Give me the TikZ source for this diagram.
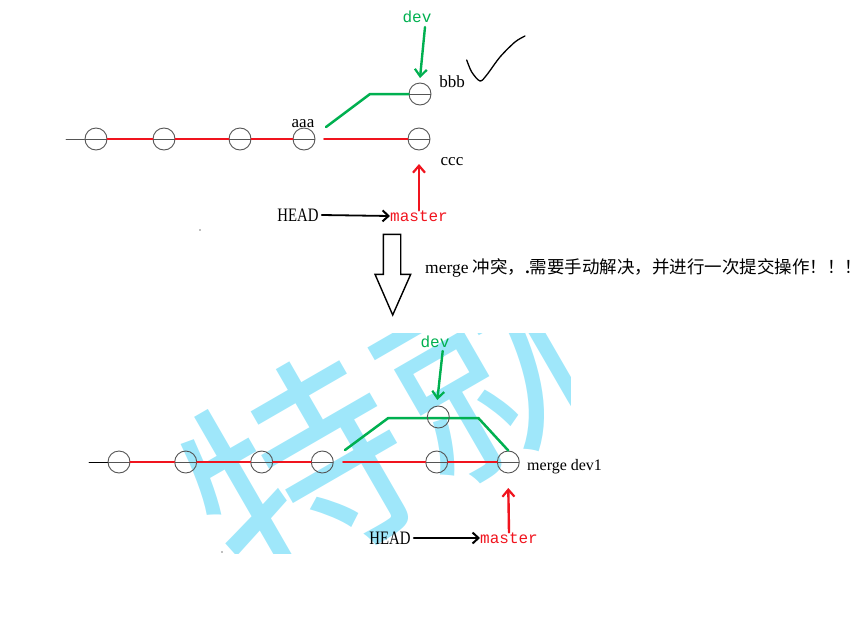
\documentclass[tikz,border=0pt]{standalone}
\usepackage{fontspec}
\setmainfont{Liberation Serif}
\newfontfamily\monofont{Liberation Mono}
\newfontfamily\cjk{Noto Sans CJK SC}
\usetikzlibrary{arrows.meta}
\definecolor{gitred}{HTML}{F0141E}
\definecolor{gitgreen}{HTML}{00B050}
\definecolor{wmcyan}{HTML}{9FE7FA}
\definecolor{ringgray}{HTML}{555555}
\tikzset{
    commit/.style={
        circle, draw=ringgray, line width=0.9pt, minimum size=22pt, inner sep=0pt,
        path picture={\draw[ringgray, line width=0.8pt] (path picture bounding box.west) -- (path picture bounding box.east);}
    },
    tag/.style={font=\fontsize{17}{20}\selectfont, inner sep=0pt},
    ref/.style={font=\monofont\fontsize{16}{18}\selectfont, inner sep=0pt},
    headlbl/.style={font=\fontsize{19}{22}\selectfont, xscale=0.78, inner sep=0pt},
    redline/.style={gitred, line width=2pt},
    greenline/.style={gitgreen, line width=2.5pt},
    ptr/.style={line width=2.4pt, -{Straight Barb[length=7pt,width=12pt,line width=2.2pt]}},
    headptr/.style={line width=1.8pt, -{Straight Barb[length=6pt,width=11pt,line width=2pt]}}
}

\begin{document}
\begin{tikzpicture}[x=1pt, y=-1pt, line cap=round, line join=round]
\useasboundingbox (0,0) rectangle (867,616);

% watermark
\begin{scope}
  \clip (120,333) rectangle (570,553);
  \node[font=\cjk\fontsize{220}{220}\selectfont, text=wmcyan, rotate=30, inner sep=0pt] (wm) at (395,418) {特就};
\end{scope}

% top: dev and master diverge after aaa
\coordinate (t0) at (66,139);
\foreach \x [count=\i] in {96,164,240,304} {
  \node[commit] (t\i) at (\x,139) {};
}
\node[commit] (ccc) at (419,139) {};
\node[commit] (bbb) at (420,94) {};

\draw[ringgray, line width=0.8pt] (t0) -- (t1.west);
\foreach \i [evaluate=\i as \j using int(\i+1)] in {1,2,3} {
  \draw[redline] (t\i.east) -- (t\j.west);
}
\coordinate (tsplit) at (324,139);
\draw[redline] (tsplit) -- (ccc.west);
\coordinate (tfork) at (326,127);
\coordinate (tbend) at (370,94);
\draw[greenline] (tfork) -- (tbend) -- (bbb.west);

\node[tag] (aaa) at (303,124) {aaa};
\node[tag] (bbbl) at (452,82) {bbb};
\node[tag] (cccl) at (452,162) {ccc};

\node[ref, text=gitgreen] (tdev) at (417,17) {dev};
\coordinate (tdevend) at (420,78);
\draw[ptr, gitgreen] (425,27) -- (tdevend);

\node[headlbl] (thead) at (298,215) {HEAD};
\node[ref, text=gitred] (tmaster) at (419,216) {master};
\draw[headptr] (thead.east) ++(3,0) -- (tmaster.west);
\coordinate (tmasterend) at (419,164);
\draw[ptr, gitred] (tmaster.north) -- (tmasterend);

% check mark
\draw[black, line width=1.3pt] plot[smooth, tension=0.5] coordinates {(466.7,60) (471.7,72) (480,81) (486.7,75) (500,57) (515,42) (525,36)};

\fill[gray] (200,230) circle (0.8pt);

% big hollow arrow + note
\draw[black, line width=1.4pt, line join=miter] (383.3,234.3) -- (400.7,234.3) -- (400.7,274.3) -- (410.7,274.3)
  -- (392.7,315) -- (375,274.3) -- (383.3,274.3) -- cycle;
\node[anchor=west, inner sep=0pt, font=\fontsize{17.5}{20}\selectfont] (note) at (425,268)
  {merge {\cjk 冲突，}\textbf{.}{\cjk 需要手动解决，并进行一次提交操作！！！}};

% bottom: merged
\coordinate (b0) at (89,462);
\foreach \x [count=\i] in {119,185.7,261.7,322.3,436.7,508.3} {
  \node[commit] (b\i) at (\x,462) {};
}
\draw[black, line width=0.8pt] (b0) -- (b1.west);
\foreach \i [evaluate=\i as \j using int(\i+1)] in {1,2,3,5} {
  \draw[redline] (b\i.east) -- (b\j.west);
}
\coordinate (bsplit) at (343,462);
\draw[redline] (bsplit) -- (b5.west);

\coordinate (bfork) at (345,450);
\coordinate (bbend) at (388.3,418);
\coordinate (bjoin) at (478.3,418);
\draw[greenline] (bfork) -- (bbend) -- (bjoin) -- (b6.north);
\node[circle, draw=ringgray, line width=0.9pt, minimum size=22pt, inner sep=0pt] (bdev) at (438.3,417) {};

\node[ref, text=gitgreen] (bdevl) at (435,342) {dev};
\coordinate (bdevend) at (437.3,400);
\draw[ptr, gitgreen] (442.7,351) -- (bdevend);

\node[tag, anchor=west, font=\fontsize{16}{19}\selectfont] (mergel) at (527,467) {merge dev1};

\node[headlbl] (bhead) at (390,538) {HEAD};
\node[ref, text=gitred] (bmaster) at (509,538) {master};
\draw[headptr] (bhead.east) ++(3,0) -- (bmaster.west);
\coordinate (bmasterend) at (508.3,488);
\draw[ptr, gitred] (bmaster.north) -- (bmasterend);

\fill[gray] (222,552) circle (0.8pt);
\end{tikzpicture}
\end{document}
